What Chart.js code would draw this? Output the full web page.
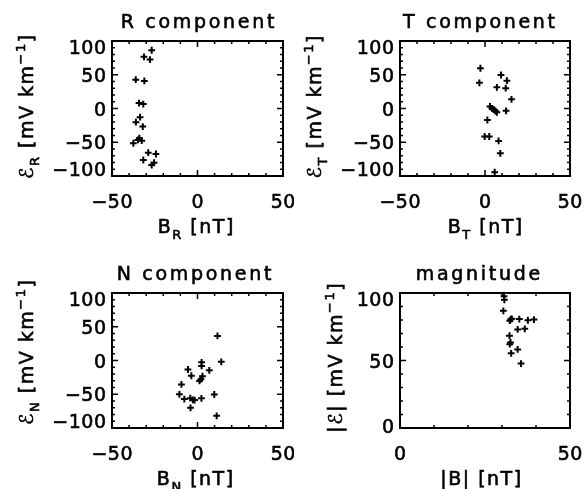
<!DOCTYPE html>
<html lang="en">
<head>
  <meta charset="UTF-8">
  <title>E vs B components</title>
  <script src="https://cdn.jsdelivr.net/npm/chart.js"></script>
  <style>
    html, body {
      margin: 0;
      padding: 0;
      background: #fff;
      overflow: hidden;
    }
    #wrap {
      position: relative;
      width: 588px;
      height: 489px;
    }
    canvas {
      position: absolute;
    }
  </style>
</head>
<body>
<div id="wrap">
  <canvas id="cR" width="294" height="245" style="left:0;top:0"></canvas>
  <canvas id="cT" width="294" height="245" style="left:294px;top:0"></canvas>
  <canvas id="cN" width="294" height="244" style="left:0;top:245px"></canvas>
  <canvas id="cM" width="294" height="244" style="left:294px;top:245px"></canvas>
</div>

<script>
  // values
  const bR = [-26.8, -31.3, -27.8, -36.1, -31.1, -34.2, -31.7, -33.6, -36.0, -32.0, -34.0, -32.6, -34.8, -37.5, -28.8, -24.3, -31.7, -25.4, -26.8];
  const eR = [86.3, 76.5, 72.5, 42.7, 40.8, 8.0, 6.5, -12.8, -20.2, -26.8, -44.0, -47.6, -46.6, -51.5, -65.5, -67.4, -76.3, -80.4, -83.8];

  const bT = [-2.7, 9.4, 12.9, -3.3, 7.0, 12.2, 15.6, 2.9, 4.1, 6.1, 7.0, 12.4, 1.4, -0.2, 2.5, 8.0, 9.0, 5.7, 5.1];
  const eT = [59.6, 49.6, 41.2, 38.1, 31.4, 30.1, 13.6, 3.0, 0.3, -3.7, -5.6, -3.4, -17.0, -41.5, -41.5, -48.1, -66.4, -94.4, -1.5];

  const bN = [11.7, 13.9, 2.4, 2.4, -5.6, 6.9, -3.6, 2.9, 2.0, 1.2, -9.4, -10.6, -7.7, -4.2, -2.7, -1.7, 2.3, 9.8, -4.1, 11.2];
  const eN = [36.4, -1.9, -2.7, -8.1, -13.3, -14.5, -22.6, -23.3, -27.7, -30.2, -35.4, -50.1, -57.1, -55.8, -58.3, -58.7, -56.0, -50.4, -70.1, -81.9];

  const bMag = [30.6, 30.7, 30.4, 32.6, 32.3, 35.1, 37.6, 39.4, 34.6, 36.7, 32.2, 32.5, 32.3, 34.6, 32.7, 35.6, 32.9];
  const eMag = [97.6, 95.0, 86.8, 80.6, 79.5, 80.7, 79.8, 80.3, 73.0, 73.5, 68.4, 63.4, 62.1, 58.2, 55.3, 47.7, 80.9];

  // tick labels
  const compXTicks = [-50, 0, 50];
  const compYTicks = [-100, -50, 0, 50, 100];
  const magXTicks = [0, 50];
  const magYTicks = [0, 50, 100];

  const FONT = '"DejaVu Sans", sans-serif';
  const SIZE = 19;

  function fontFor(p, size) {
    return ((p.sub || p.sup) ? Math.round(size * 0.68) : size) + 'px ' + FONT;
  }
  function richWidth(ctx, parts, size, sp) {
    let w = 0;
    for (const p of parts) {
      ctx.font = fontFor(p, size);
      for (const ch of p.t) w += ctx.measureText(ch).width + sp;
    }
    return w - sp;
  }
  // x = left of text, y = baseline; a thin stroke makes it a bit heavier like the original
  function drawRich(ctx, parts, x, y, size, sp) {
    ctx.lineWidth = 0.6;
    for (const p of parts) {
      ctx.font = fontFor(p, size);
      const dy = p.sub ? size * 0.3 : p.sup ? -size * 0.42 : 0;
      for (const ch of p.t) {
        ctx.fillText(ch, x, y + dy);
        ctx.strokeText(ch, x, y + dy);
        x += ctx.measureText(ch).width + sp;
      }
    }
  }

  // IDL-style box: inward ticks on all sides, labels, titles
  const idlFrame = {
    id: 'idlFrame',
    afterDraw(chart, args, o) {
      const { ctx, chartArea: a, scales: { x, y } } = chart;
      ctx.save();
      ctx.strokeStyle = '#000';
      ctx.fillStyle = '#000';
      ctx.lineWidth = 1.5;
      ctx.beginPath();
      for (let v = x.min; v <= x.max + 1e-9; v += 10) {
        const px = x.getPixelForValue(v);
        const len = o.xTicks.includes(v) ? 6 : 3;
        ctx.moveTo(px, a.bottom); ctx.lineTo(px, a.bottom - len);
        ctx.moveTo(px, a.top); ctx.lineTo(px, a.top + len);
      }
      for (let v = y.min; v <= y.max + 1e-9; v += 10) {
        const py = y.getPixelForValue(v);
        const len = o.yTicks.includes(v) ? 6 : 3;
        ctx.moveTo(a.left, py); ctx.lineTo(a.left + len, py);
        ctx.moveTo(a.right, py); ctx.lineTo(a.right - len, py);
      }
      ctx.stroke();
      ctx.lineWidth = 2;
      ctx.strokeRect(a.left, a.top, a.right - a.left, a.bottom - a.top);

      // tick labels
      ctx.textBaseline = 'alphabetic';
      ctx.textAlign = 'left';
      for (const v of o.xTicks) {
        const s = String(v).replace('-', '\u2212');
        const w = richWidth(ctx, [{ t: s }], SIZE, 0.5);
        drawRich(ctx, [{ t: s }], x.getPixelForValue(v) - w / 2, a.bottom + 32, SIZE, 0.5);
      }
      for (const v of o.yTicks) {
        const s = String(v).replace('-', '\u2212');
        const w = richWidth(ctx, [{ t: s }], SIZE, 0.5);
        let py = y.getPixelForValue(v) + 7;
        if (v === y.max) py += o.topShift;
        if (v === y.min) py += o.bottomShift;
        drawRich(ctx, [{ t: s }], a.left - 6 - w, py, SIZE, 0.5);
      }

      // title
      const tw = richWidth(ctx, [{ t: o.title }], SIZE, 2.7);
      drawRich(ctx, [{ t: o.title }], o.titleX - tw / 2, a.top - 13.5, SIZE, 2.7);

      // x axis title
      const xw = richWidth(ctx, o.xLabel, SIZE, 1.5);
      drawRich(ctx, o.xLabel, o.xLabelX - xw / 2, a.bottom + 57, SIZE, 1.5);

      // y axis title, rotated
      const yw = richWidth(ctx, o.yLabel, SIZE, 1.5);
      ctx.translate(a.left - o.yLabelGap, o.yLabelY);
      ctx.rotate(-Math.PI / 2);
      drawRich(ctx, o.yLabel, -yw / 2, 0, SIZE, 1.5);
      ctx.restore();
    }
  };

  function makePanel(id, xs, ys, cfg) {
    new Chart(document.getElementById(id), {
      type: 'scatter',
      data: {
        datasets: [{
          data: xs.map((v, i) => ({ x: v, y: ys[i] })),
          pointStyle: 'cross',
          pointRadius: 3.4,
          borderColor: '#000',
          backgroundColor: '#000',
          borderWidth: 2
        }]
      },
      options: {
        responsive: false,
        animation: false,
        events: [],
        layout: { padding: cfg.pad },
        scales: {
          x: { type: 'linear', min: cfg.xMin, max: cfg.xMax, display: false },
          y: { type: 'linear', min: cfg.yMin, max: cfg.yMax, display: false }
        },
        plugins: {
          legend: { display: false },
          tooltip: { enabled: false },
          idlFrame: cfg.frame
        }
      },
      plugins: [idlFrame]
    });
  }

  const unitE = [{ t: ' [mV km' }, { t: '\u22121', sup: 1 }, { t: ']' }];
  const unitB = [{ t: ' [nT]' }];

  makePanel('cR', bR, eR, {
    pad: { left: 112, top: 41, right: 11, bottom: 69 },
    xMin: -50, xMax: 50, yMin: -100, yMax: 100,
    frame: {
      title: 'R component', titleX: 197.5,
      xTicks: compXTicks, yTicks: compYTicks, topShift: 6, bottomShift: -7,
      xLabel: [{ t: 'B' }, { t: 'R', sub: 1 }].concat(unitB), xLabelX: 195.5,
      yLabel: [{ t: '\u2130' }, { t: 'R', sub: 1 }].concat(unitE), yLabelGap: 79, yLabelY: 107
    }
  });
  makePanel('cT', bT, eT, {
    pad: { left: 106, top: 41, right: 18, bottom: 69 },
    xMin: -50, xMax: 50, yMin: -100, yMax: 100,
    frame: {
      title: 'T component', titleX: 185,
      xTicks: compXTicks, yTicks: compYTicks, topShift: 6, bottomShift: -7,
      xLabel: [{ t: 'B' }, { t: 'T', sub: 1 }].concat(unitB), xLabelX: 191,
      yLabel: [{ t: '\u2130' }, { t: 'T', sub: 1 }].concat(unitE), yLabelGap: 79, yLabelY: 107
    }
  });
  makePanel('cN', bN, eN, {
    pad: { left: 112, top: 48, right: 11, bottom: 61 },
    xMin: -50, xMax: 50, yMin: -100, yMax: 100,
    frame: {
      title: 'N component', titleX: 194,
      xTicks: compXTicks, yTicks: compYTicks, topShift: 6, bottomShift: -7,
      xLabel: [{ t: 'B' }, { t: 'N', sub: 1 }].concat(unitB), xLabelX: 195,
      yLabel: [{ t: '\u2130' }, { t: 'N', sub: 1 }].concat(unitE), yLabelGap: 79, yLabelY: 107.5
    }
  });
  makePanel('cM', bMag, eMag, {
    pad: { left: 106, top: 48, right: 18, bottom: 61 },
    xMin: 0, xMax: 50, yMin: 0, yMax: 100,
    frame: {
      title: 'magnitude', titleX: 184,
      xTicks: magXTicks, yTicks: magYTicks, topShift: 6, bottomShift: -2,
      xLabel: [{ t: '|B|' }].concat(unitB), xLabelX: 186.7,
      yLabel: [{ t: '|\u2130|' }].concat(unitE), yLabelGap: 58, yLabelY: 113
    }
  });
</script>
</body>
</html>
